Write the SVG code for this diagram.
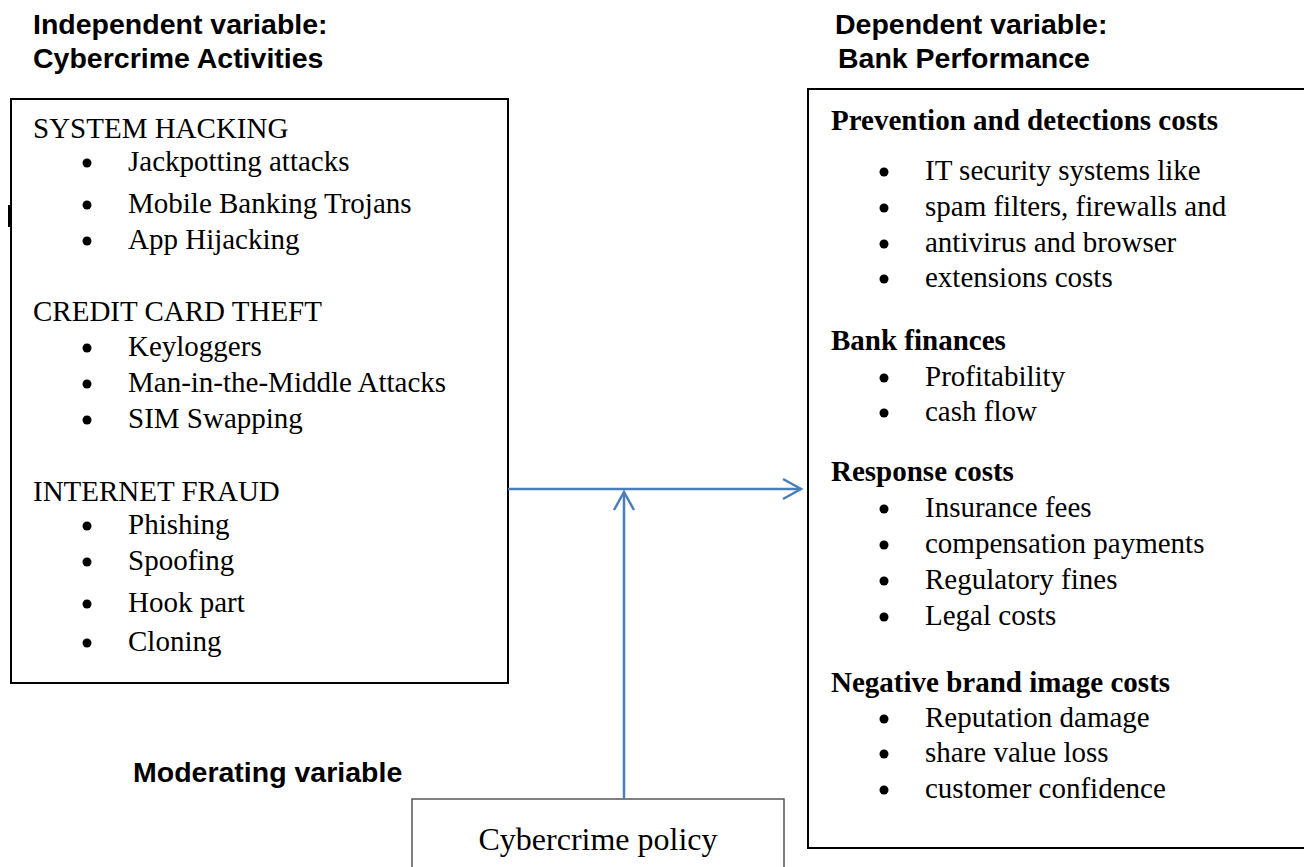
<svg xmlns="http://www.w3.org/2000/svg" width="1304" height="867" viewBox="0 0 1304 867">
<style>
.h{font-family:"Liberation Sans",Arial,sans-serif;font-weight:bold;font-size:28.5px;fill:#000}
.t{font-family:"Liberation Serif","Times New Roman",serif;font-size:29px;fill:#000}
.b{font-weight:bold}
.box{fill:#fff;stroke:#000;stroke-width:2}
.con{fill:none;stroke:#4a7ebb;stroke-width:2.5}
</style>
<rect width="1304" height="867" fill="#fff"/>
<g id="headers">
<text class="h" x="33" y="34">Independent variable:</text>
<text class="h" x="33" y="68">Cybercrime Activities</text>
<text class="h" x="835" y="34">Dependent variable:</text>
<text class="h" x="838" y="68">Bank Performance</text>
<text class="h" x="133" y="782">Moderating variable</text>
</g>
<g id="independent">
<rect class="box" x="11" y="99" width="497" height="584"/>
<rect x="8" y="205" width="3" height="22" fill="#000"/>
<text class="t" x="33" y="138">SYSTEM HACKING</text>
<circle cx="87" cy="163" r="4.5"/><text class="t" x="128" y="171">Jackpotting attacks</text>
<circle cx="87" cy="205" r="4.5"/><text class="t" x="128" y="213">Mobile Banking Trojans</text>
<circle cx="87" cy="241" r="4.5"/><text class="t" x="128" y="249">App Hijacking</text>
<text class="t" x="33" y="321">CREDIT CARD THEFT</text>
<circle cx="87" cy="348" r="4.5"/><text class="t" x="128" y="356">Keyloggers</text>
<circle cx="87" cy="384" r="4.5"/><text class="t" x="128" y="392">Man-in-the-Middle Attacks</text>
<circle cx="87" cy="420" r="4.5"/><text class="t" x="128" y="428">SIM Swapping</text>
<text class="t" x="33" y="501">INTERNET FRAUD</text>
<circle cx="87" cy="526" r="4.5"/><text class="t" x="128" y="534">Phishing</text>
<circle cx="87" cy="562" r="4.5"/><text class="t" x="128" y="570">Spoofing</text>
<circle cx="87" cy="604" r="4.5"/><text class="t" x="128" y="612">Hook part</text>
<circle cx="87" cy="643" r="4.5"/><text class="t" x="128" y="651">Cloning</text>
</g>
<g id="dependent">
<rect class="box" x="808" y="89" width="510" height="759"/>
<text class="t b" x="831" y="130">Prevention and detections costs</text>
<circle cx="884" cy="172" r="4.5"/><text class="t" x="925" y="180">IT security systems like</text>
<circle cx="884" cy="208" r="4.5"/><text class="t" x="925" y="216">spam filters, firewalls and</text>
<circle cx="884" cy="244" r="4.5"/><text class="t" x="925" y="252">antivirus and browser</text>
<circle cx="884" cy="279" r="4.5"/><text class="t" x="925" y="287">extensions costs</text>
<text class="t b" x="831" y="350">Bank finances</text>
<circle cx="884" cy="378" r="4.5"/><text class="t" x="925" y="386">Profitability</text>
<circle cx="884" cy="413" r="4.5"/><text class="t" x="925" y="421">cash flow</text>
<text class="t b" x="831" y="481">Response costs</text>
<circle cx="884" cy="509" r="4.5"/><text class="t" x="925" y="517">Insurance fees</text>
<circle cx="884" cy="545" r="4.5"/><text class="t" x="925" y="553">compensation payments</text>
<circle cx="884" cy="581" r="4.5"/><text class="t" x="925" y="589">Regulatory fines</text>
<circle cx="884" cy="617" r="4.5"/><text class="t" x="925" y="625">Legal costs</text>
<text class="t b" x="831" y="692">Negative brand image costs</text>
<circle cx="884" cy="719" r="4.5"/><text class="t" x="925" y="727">Reputation damage</text>
<circle cx="884" cy="754" r="4.5"/><text class="t" x="925" y="762">share value loss</text>
<circle cx="884" cy="790" r="4.5"/><text class="t" x="925" y="798">customer confidence</text>
</g>
<g id="moderating">
<rect x="412" y="799" width="372" height="80" fill="#fff" stroke="#555" stroke-width="1.5"/>
<text class="t" x="598" y="850" text-anchor="middle" style="font-size:32px">Cybercrime policy</text>
</g>
<g id="connectors">
<line class="con" x1="508" y1="489" x2="801" y2="489"/>
<polyline class="con" points="783,479 801,489 783,499"/>
<line class="con" x1="624" y1="799" x2="624" y2="492"/>
<polyline class="con" points="614,510 624,492 634,510"/>
</g>
</svg>
